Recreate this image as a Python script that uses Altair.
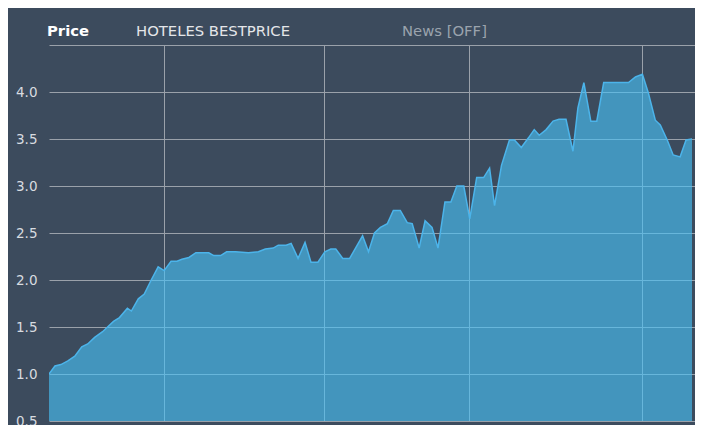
import altair as alt
import pandas as pd

# time position (arbitrary units along the x axis) and price
t = [0, 6, 12, 19, 26, 33, 39, 46, 54, 59, 65, 71, 79, 83, 90, 96, 103, 110, 116,
     123, 129, 134, 141, 148, 161, 166, 173, 179, 188, 201, 211, 218, 226, 231,
     239, 244, 251, 258, 264, 271, 278, 284, 289, 296, 303, 316, 322, 328, 334,
     341, 347, 354, 361, 366, 373, 379, 386, 392, 399, 405, 411, 418, 424, 431,
     438, 444, 449, 456, 464, 469, 476, 483, 489, 494, 501, 508, 514, 521, 528,
     533, 539, 546, 552, 559, 584, 591, 598, 604, 611, 616, 623, 629, 636, 642, 648]
price = [1.00, 1.085, 1.10, 1.14, 1.19, 1.29, 1.32, 1.39, 1.45, 1.50, 1.56, 1.60,
         1.70, 1.67, 1.80, 1.85, 2.00, 2.14, 2.10, 2.20, 2.20, 2.22, 2.24, 2.29,
         2.29, 2.26, 2.26, 2.30, 2.30, 2.29, 2.30, 2.33, 2.34, 2.37, 2.37, 2.39,
         2.23, 2.40, 2.19, 2.19, 2.30, 2.33, 2.33, 2.23, 2.23, 2.47, 2.30, 2.50,
         2.56, 2.60, 2.74, 2.74, 2.61, 2.60, 2.34, 2.63, 2.56, 2.34, 2.83, 2.83,
         3.00, 3.00, 2.65, 3.09, 3.09, 3.19, 2.79, 3.22, 3.49, 3.49, 3.41, 3.51,
         3.60, 3.54, 3.60, 3.69, 3.71, 3.71, 3.37, 3.83, 4.10, 3.69, 3.69, 4.10,
         4.10, 4.16, 4.19, 3.99, 3.70, 3.65, 3.49, 3.33, 3.31, 3.49, 3.50]

x_grid = [116, 277, 423, 598]
y_ticks = [0.5, 1.0, 1.5, 2.0, 2.5, 3.0, 3.5, 4.0, 4.5]

header_labels = ["Price", "HOTELES BESTPRICE", "News [OFF]"]

df = pd.DataFrame({"t": t, "price": price})

BG = "#3c4b5d"
GRID = "#9aa1aa"

area = alt.Chart(df).mark_area(
    color="#48c4f8", opacity=0.62, interpolate="linear", clip=True,
    line={"color": "#4cb4ea", "strokeWidth": 1.5, "opacity": 1},
).encode(
    x=alt.X("t:Q", scale=alt.Scale(domain=[0, 651], nice=False, zero=False),
            axis=alt.Axis(values=x_grid, labels=False, ticks=False, domain=False,
                          grid=True, gridColor=GRID, gridWidth=1, title=None)),
    y=alt.Y("price:Q", scale=alt.Scale(domain=[0.5, 4.5], nice=False, zero=False),
            axis=alt.Axis(values=y_ticks, ticks=False, domain=False, grid=True,
                          gridColor=GRID, gridWidth=1, title=None,
                          labelExpr="datum.value >= 4.5 ? '' : format(datum.value, '.1f')",
                          labelColor="#d8dce0", labelFont="DejaVu Sans",
                          labelFontSize=13.5, labelPadding=12)),
)

hdf = pd.DataFrame({"label": header_labels})

price_txt = alt.Chart(hdf).transform_filter(alt.datum.label == header_labels[0]).mark_text(
    align="left", baseline="alphabetic", font="DejaVu Sans", fontSize=14.8,
    fontWeight="bold", color="#ffffff",
).encode(text="label:N", x=alt.value(-2), y=alt.value(-9))

name_txt = alt.Chart(hdf).transform_filter(alt.datum.label == header_labels[1]).mark_text(
    align="left", baseline="alphabetic", font="DejaVu Sans", fontSize=14.8,
    color="#e4e6e9",
).encode(text="label:N", x=alt.value(87), y=alt.value(-9))

news_txt = alt.Chart(hdf).transform_filter(alt.datum.label == header_labels[2]).mark_text(
    align="left", baseline="alphabetic", font="DejaVu Sans", fontSize=14.8,
    color="#9aa3ad",
).encode(text="label:N", x=alt.value(353), y=alt.value(-9))

chart = alt.layer(area, price_txt, name_txt, news_txt).properties(
    width=646, height=376,
    background=BG,
    autosize=alt.AutoSizeParams(type="none"),
    padding={"left": 41, "top": 37, "right": 0, "bottom": 4},
).configure_view(stroke=None)

chart.save("out.html", embed_options={"renderer": "svg", "actions": False})
